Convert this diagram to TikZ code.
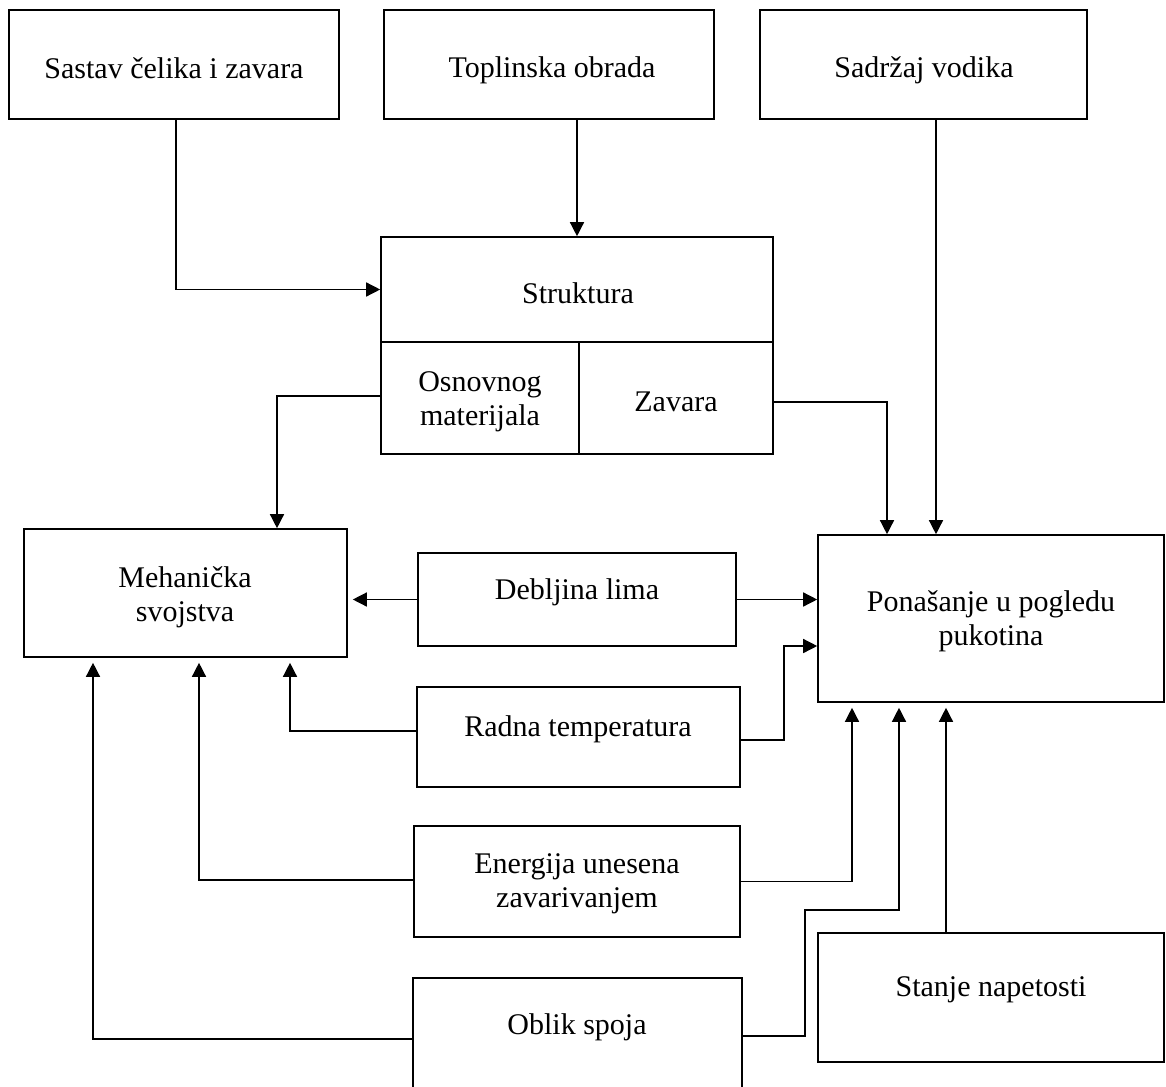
\documentclass[tikz,border=0pt]{standalone}
\usepackage{fontspec}
\setmainfont{Liberation Serif}
\usetikzlibrary{fit,arrows.meta}
\begin{document}
\begin{tikzpicture}[x=1pt,y=-1pt,
  box/.style={draw, line width=1.6pt, inner sep=0pt, rectangle},
  lbl/.style={font=\fontsize{30}{34}\selectfont, align=center, inner sep=0pt},
  arr/.style={line width=1.4pt, -{Triangle[length=14pt,width=14pt]}},
  gap/.style={shorten >=5pt}]
\useasboundingbox (0,0) rectangle (1166,1086);
% boxes
\node[box, fit={(9,10) (339,119)}] (sastav) {};
\node[box, fit={(384,10) (714,119)}] (topl) {};
\node[box, fit={(760,10) (1087,119)}] (sadr) {};
\node[box, fit={(381,237) (773,342)}] (strukA) {};
\node[box, fit={(381,342) (579,454)}] (osn) {};
\node[box, fit={(579,342) (773,454)}] (zav) {};
\node[box, fit={(24,529) (347,657)}] (meh) {};
\node[box, fit={(418,553) (736,646)}] (deb) {};
\node[box, fit={(417,687) (740,787)}] (rad) {};
\node[box, fit={(414,826) (740,937)}] (ener) {};
\node[box, fit={(413,978) (742,1100)}] (obl) {};
\node[box, fit={(818,535) (1164,702)}] (pon) {};
\node[box, fit={(818,933) (1164,1062)}] (stan) {};
% labels
\node[lbl] (sastavT) at (174,68) {Sastav čelika i zavara};
\node[lbl] (toplT) at (552,70) {Toplinska obrada};
\node[lbl] (sadrT) at (924,70) {Sadržaj vodika};
\node[lbl] (strukT) at (578,293) {Struktura};
\node[lbl] (osnT) at (480,402) {Osnovnog\\materijala};
\node[lbl] (zavT) at (676,402) {Zavara};
\node[lbl] (mehT) at (185,597) {Mehanička\\svojstva};
\node[lbl] (debT) at (577,592) {Debljina lima};
\node[lbl] (radT) at (578,729) {Radna temperatura};
\node[lbl] (enerT) at (577,884) {Energija unesena\\zavarivanjem};
\node[lbl] (oblT) at (577,1027) {Oblik spoja};
\node[lbl] (ponT) at (991,621) {Ponašanje u pogledu\\pukotina};
\node[lbl] (stanT) at (991,990) {Stanje napetosti};
% connectors
\draw[arr] ([xshift=2pt]sastav.south) |- (strukA.west);
\draw[arr] (topl.south -| strukA.north) -- (strukA.north);
\draw[arr] ([xshift=12.5pt]sadr.south) -- ([xshift=12.5pt]sadr.south |- pon.north);
\draw[arr] ([yshift=2pt]osn.west) -| ([xshift=91.5pt]meh.north);
\draw[arr] ([yshift=-4pt]zav.east) -| ([xshift=-104pt]pon.north);
\draw[arr,gap] (deb.west) -- (deb.west -| meh.east);
\draw[arr] (deb.east) -- (deb.east -| pon.west);
\draw[arr,gap] ([yshift=6pt]rad.west) -| ([xshift=104.5pt]meh.south);
\draw[arr] ([yshift=-3pt]rad.east) -- ++(43,0) |- ([yshift=-27.5pt]pon.west);
\draw[arr,gap] ([yshift=1.5pt]ener.west) -| ([xshift=13.5pt]meh.south);
\draw[arr,gap] (ener.east) -| ([xshift=-139pt]pon.south);
\draw[arr,gap] (obl.west) -| ([xshift=-92.5pt]meh.south);
\draw[arr,gap] ([yshift=3pt]obl.east) -- ++(62,0) -- ++(0,-126) -| ([xshift=-92pt]pon.south);
\draw[arr,gap] ([xshift=-45pt]stan.north) -- ([xshift=-45pt]stan.north |- pon.south);
\end{tikzpicture}
\end{document}
